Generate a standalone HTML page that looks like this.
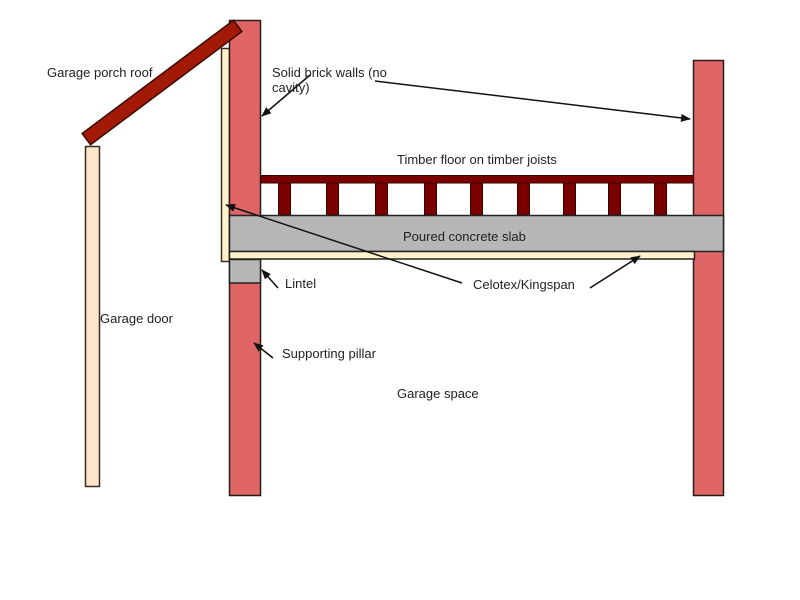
<!DOCTYPE html>
<html>
<head>
<meta charset="utf-8">
<style>
html,body{margin:0;padding:0;background:#fff;}
svg{display:block;}
text{font-family:"Liberation Sans",Arial,sans-serif;font-size:13px;fill:#222;}
</style>
</head>
<body>
<svg width="800" height="600" viewBox="0 0 800 600" xmlns="http://www.w3.org/2000/svg">
<defs>
<marker id="ah" markerWidth="10" markerHeight="8" refX="9" refY="4" orient="auto" markerUnits="userSpaceOnUse">
<path d="M0,0 L10,4 L0,8 z" fill="#111"/>
</marker>
</defs>
<rect width="800" height="600" fill="#fff"/>

<!-- garage door -->
<rect x="85.5" y="146.5" width="14" height="340" fill="#fce5cd" stroke="#3a2a22" stroke-width="1.5"/>

<!-- beige strip by left wall -->
<rect x="221.5" y="48.5" width="8" height="213" fill="#fff2cc" stroke="#3a2a22" stroke-width="1.5"/>

<!-- walls -->
<rect x="229.5" y="20.5" width="31" height="475" fill="#e06666" stroke="#2a1a1a" stroke-width="1.5"/>
<rect x="693.5" y="60.5" width="30" height="435" fill="#e06666" stroke="#2a1a1a" stroke-width="1.5"/>

<!-- timber floor -->
<rect x="261" y="175.5" width="432.5" height="7.5" fill="#7a0000" stroke="#3a0000" stroke-width="1"/>
<g fill="#7a0000" stroke="#3a0000" stroke-width="1">
<rect x="278.5" y="183" width="12" height="32"/>
<rect x="326.5" y="183" width="12" height="32"/>
<rect x="375.5" y="183" width="12" height="32"/>
<rect x="424.5" y="183" width="12" height="32"/>
<rect x="470.5" y="183" width="12" height="32"/>
<rect x="517.5" y="183" width="12" height="32"/>
<rect x="563.5" y="183" width="12" height="32"/>
<rect x="608.5" y="183" width="12" height="32"/>
<rect x="654.5" y="183" width="12" height="32"/>
</g>

<!-- slab -->
<rect x="229.5" y="215.5" width="494" height="36" fill="#b7b7b7" stroke="#222" stroke-width="1.5"/>
<!-- insulation -->
<rect x="229.5" y="251.5" width="465" height="7.5" fill="#fff2cc" stroke="#222" stroke-width="1.5"/>
<!-- lintel -->
<rect x="229.5" y="259.5" width="31" height="23.5" fill="#b7b7b7" stroke="#222" stroke-width="1.5"/>

<!-- roof -->
<rect x="-94.5" y="-7" width="189" height="14" fill="#a21a06" stroke="#3a0a00" stroke-width="1.5" transform="translate(162,82.5) rotate(-36.8)"/>

<!-- arrows -->
<g stroke="#111" stroke-width="1.5" fill="none" marker-end="url(#ah)">
<line x1="310" y1="75" x2="262" y2="116"/>
<line x1="375" y1="81" x2="690" y2="119"/>
<line x1="462" y1="283" x2="226" y2="205"/>
<line x1="590" y1="288" x2="640" y2="256"/>
<line x1="278" y1="288" x2="262" y2="270"/>
<line x1="273" y1="358" x2="254" y2="343"/>
</g>

<!-- labels -->
<text x="47" y="77">Garage porch roof</text>
<text x="272" y="77">Solid brick walls (no</text>
<text x="272" y="92">cavity)</text>
<text x="397" y="164">Timber floor on timber joists</text>
<text x="403" y="241">Poured concrete slab</text>
<text x="285" y="288">Lintel</text>
<text x="473" y="289">Celotex/Kingspan</text>
<text x="100" y="323">Garage door</text>
<text x="282" y="358">Supporting pillar</text>
<text x="397" y="398">Garage space</text>
</svg>
</body>
</html>
